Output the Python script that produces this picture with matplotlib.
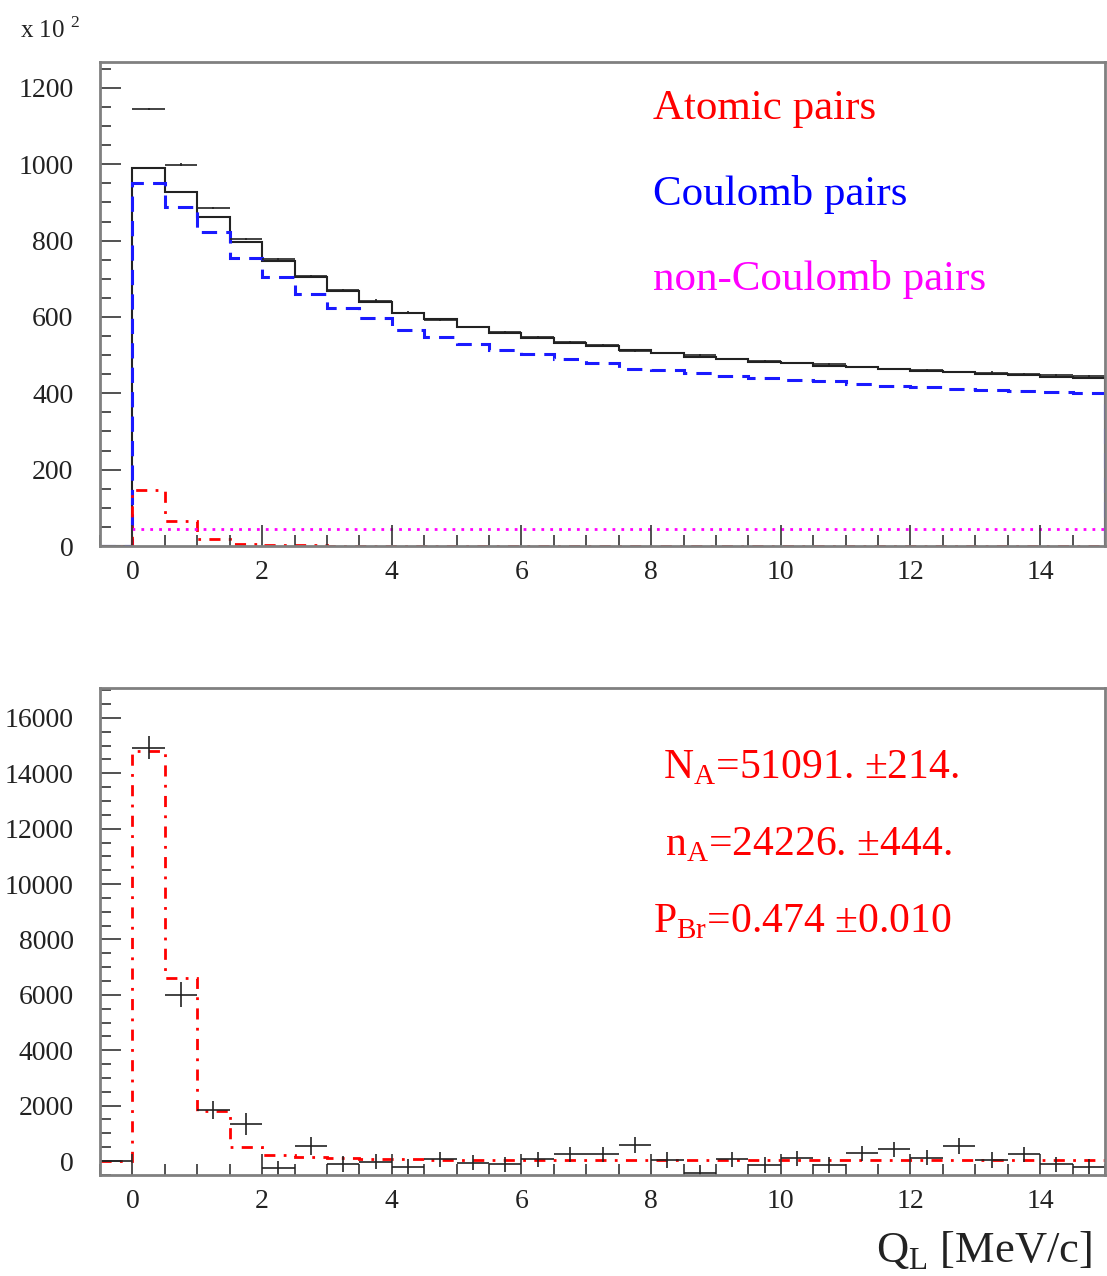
import numpy as np
import matplotlib
matplotlib.use("Agg")
from matplotlib import pyplot as plt
from matplotlib.ticker import MultipleLocator

plt.rcParams['font.family'] = ['Liberation Serif', 'DejaVu Serif']

# bin edges: one underflow bin (-0.5..0) then 30 bins of 0.5 MeV/c
edges = np.arange(-0.5, 15.01, 0.5)
centers = edges[:-1] + 0.25

# top panel (x 10^2)
data_top = [0, 990, 927, 862, 796, 747, 706, 667, 640, 610, 594, 573, 557, 546, 533, 524,
            513, 506, 496, 490, 483, 479, 472, 468, 463, 458, 455, 451, 447, 444, 441]
coulomb = [0, 951, 888, 822, 754, 705, 660, 624, 597, 566, 547, 529, 514, 503, 489, 480,
           465, 461, 454, 445, 439, 435, 431, 424, 419, 416, 411, 409, 406, 403, 400]
non_coulomb = [0] + [45] * 30

# bottom panel: residuals and atomic-pair fit
atomic_fit = [0, 14800, 6620, 1800, 520, 220, 150, 110, 80, 60, 50, 40, 40, 40, 40, 40,
              40, 35, 35, 35, 35, 30, 30, 30, 30, 30, 30, 30, 30, 30, 30]
resid = [0, 14930, 6010, 1840, 1340, -265, 540, -110, -25, -200, 60, -60, -120, 60, 240, 240,
         580, 30, -420, 60, -145, 97, -145, 278, 422, 120, 541, 36, 242, -120, -205]
resid_err = [0, 400, 450, 330, 390, 250, 330] + [280] * 24

atomic_top = np.array(atomic_fit) / 100.0
fit_sum = np.array(coulomb) + atomic_top + np.array(non_coulomb)

W, H = 1107, 1276
fig = plt.figure(figsize=(W / 100, H / 100), dpi=100)
ax1 = fig.add_axes([100 / W, 1 - 546 / H, 1005 / W, 484 / H])
ax2 = fig.add_axes([100 / W, 1 - 1175 / H, 1005 / W, 487 / H])

# top panel
ax1.stairs(data_top, edges, color='#222222', lw=1.5)
ax1.errorbar(centers[1:], fit_sum[1:], xerr=0.25, yerr=3, fmt='none', ecolor='#222222', elinewidth=1.2)
ax1.stairs(coulomb, edges, color='#1a1aff', lw=2.2, linestyle=(0, (5, 3)))
ax1.stairs(atomic_top, edges, color='#ff0000', lw=2, linestyle=(0, (4, 3, 1, 3)))
ax1.stairs(non_coulomb[1:], edges[1:], color='#ff00ff', lw=2, linestyle=(0, (1, 2.2)), baseline=None)
ax1.set_ylim(0, 1268)
ax1.yaxis.set_major_locator(MultipleLocator(200))
ax1.yaxis.set_minor_locator(MultipleLocator(50))

# bottom panel
ax2.stairs(atomic_fit, edges, color='#ff0000', lw=2, linestyle=(0, (4, 3, 1, 3)))
ax2.errorbar(centers, resid, xerr=0.25, yerr=resid_err, fmt='none', ecolor='#222222', elinewidth=1.2)
ax2.set_ylim(-505, 17080)
ax2.yaxis.set_major_locator(MultipleLocator(2000))
ax2.yaxis.set_minor_locator(MultipleLocator(500))

for ax in (ax1, ax2):
    ax.set_xlim(-0.5, 15)
    ax.xaxis.set_major_locator(MultipleLocator(2))
    ax.xaxis.set_minor_locator(MultipleLocator(0.5))
    for s in ax.spines.values():
        s.set_color('#808080')
        s.set_linewidth(2)
    ax.tick_params(which='both', direction='in', colors='#333333', labelcolor='#222222')
    ax.tick_params(which='major', length=15, width=1.2, labelsize=20)
    ax.tick_params(which='minor', length=8, width=1.2)
    ax.tick_params(axis='y', which='major', pad=19)
    ax.tick_params(axis='x', which='major', pad=10)

def ftext(x, y, s, **kw):
    fig.text(x / W, 1 - y / H, s, va='baseline', **kw)

ftext(20, 38, r'x 10 $^\mathregular{2}$', fontsize=18, color='#222222')
ftext(653, 119, 'Atomic pairs', fontsize=31, color='#ff0000')
ftext(653, 205, 'Coulomb pairs', fontsize=31, color='#0000ff')
ftext(653, 290, 'non-Coulomb pairs', fontsize=31, color='#ff00ff')

ftext(663, 778, r'N$_\mathregular{A}$=51091. ±214.', fontsize=30, color='#ff0000')
ftext(665, 855, r'n$_\mathregular{A}$=24226. ±444.', fontsize=30, color='#ff0000')
ftext(653, 932, r'P$_\mathregular{Br}$=0.474 ±0.010', fontsize=30, color='#ff0000')

ftext(1092, 1263, r'Q$_\mathregular{L}$ [MeV/c]', fontsize=32, color='#222222', ha='right')

plt.savefig('out.png', dpi=100)
